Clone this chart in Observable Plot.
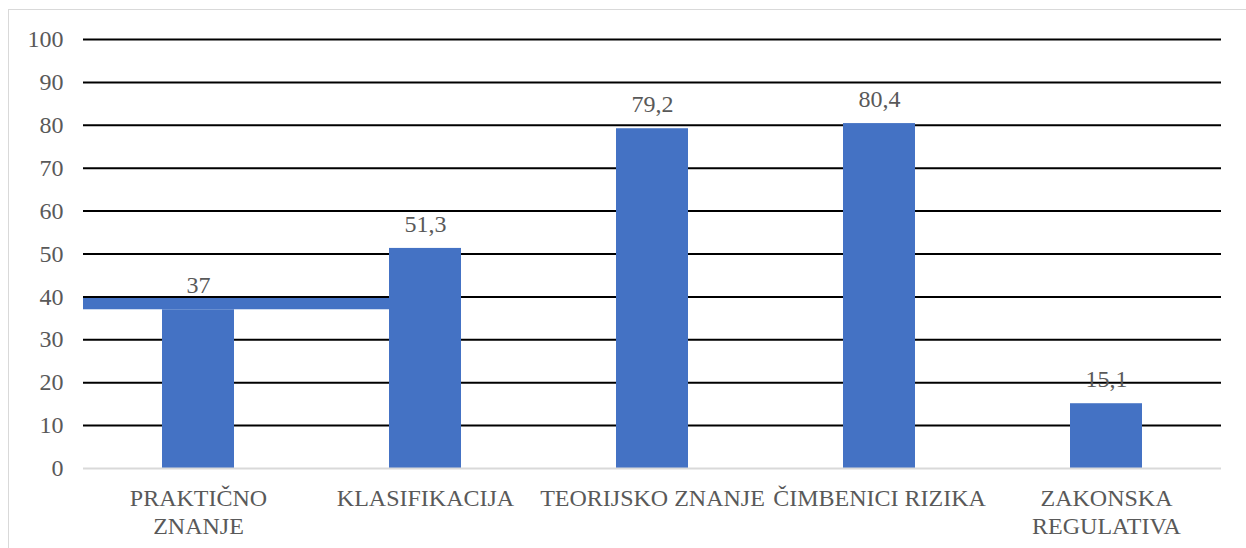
<!DOCTYPE html>
<html>
<head>
<meta charset="utf-8">
<script src="https://cdn.jsdelivr.net/npm/d3@7"></script>
<script src="https://cdn.jsdelivr.net/npm/@observablehq/plot@0.6"></script>
<style>
  html, body { margin: 0; padding: 0; background: #fff; overflow: hidden; }
  #wrap { position: relative; width: 1246px; height: 548px; }
  #border { position: absolute; left: 8px; top: 9px; width: 1300px; height: 600px;
            border: 1.5px solid #d9d9d9; pointer-events: none; box-sizing: border-box; }
  #chart { position: absolute; left: 0; top: 0; }
  #chart svg text { font-family: "Liberation Serif", "Times New Roman", serif !important; font-variant: normal !important; }
</style>
</head>
<body>
<div id="wrap"><div id="chart"></div><div id="border"></div></div>
<script>
const categories = ["PRAKTIČNO ZNANJE", "KLASIFIKACIJA", "TEORIJSKO ZNANJE", "ČIMBENICI RIZIKA", "ZAKONSKA REGULATIVA"];
const tickLabels = ["PRAKTIČNO\nZNANJE", "KLASIFIKACIJA", "TEORIJSKO ZNANJE", "ČIMBENICI RIZIKA", "ZAKONSKA\nREGULATIVA"];
const values = [37, 51.3, 79.2, 80.4, 15.1];
const yTicks = [0, 10, 20, 30, 40, 50, 60, 70, 80, 90, 100];
// horizontal blue strip seen in the picture (value range), running from the axis to the second bar
const stripRange = [37, 40];

const barColor = "#4472C4";
const textColor = "#595959";
const serif = "'Liberation Serif', 'Times New Roman', serif";
const fmt = v => String(v).replace(".", ",");

const data = categories.map((c, i) => ({cat: c, value: values[i], label: fmt(values[i])}));

function strip(index, scales, vals, dimensions) {
  const x = scales.x, y = scales.y;
  const g = d3.create("svg:g");
  g.append("rect")
    .attr("x", dimensions.marginLeft)
    .attr("width", x(categories[1]) - dimensions.marginLeft)
    .attr("y", y(stripRange[1]))
    .attr("height", y(stripRange[0]) - y(stripRange[1]))
    .attr("fill", barColor);
  return g.node();
}

const chart = Plot.plot({
  width: 1246,
  height: 548,
  marginLeft: 83,
  marginRight: 25,
  marginTop: 39,
  marginBottom: 80,
  style: {fontFamily: serif, fontSize: "24px", background: "transparent"},
  x: {type: "band", domain: categories, paddingInner: 0.684, paddingOuter: 0.342, label: null},
  y: {domain: [0, 100], label: null},
  marks: [
    strip,
    Plot.ruleY(yTicks.filter(d => d > 0), {stroke: "#000", strokeWidth: 2}),
    Plot.barY(data, {x: "cat", y: "value", fill: barColor}),
    Plot.ruleY([0], {stroke: "#d9d9d9", strokeWidth: 2}),
    Plot.text(data, {x: "cat", y: "value", text: "label", dy: -24, fill: textColor, fontSize: 24, fontFamily: serif}),
    Plot.axisY({ticks: yTicks, tickSize: 0, tickPadding: 20, fontSize: 24, fontFamily: serif, color: textColor, label: null}),
    Plot.axisX({tickSize: 0, tickPadding: 18, fontSize: 24, fontFamily: serif, color: textColor, label: null, lineHeight: 1.15,
                tickFormat: d => tickLabels[categories.indexOf(d)]})
  ]
});
document.getElementById("chart").appendChild(chart);
</script>
</body>
</html>
